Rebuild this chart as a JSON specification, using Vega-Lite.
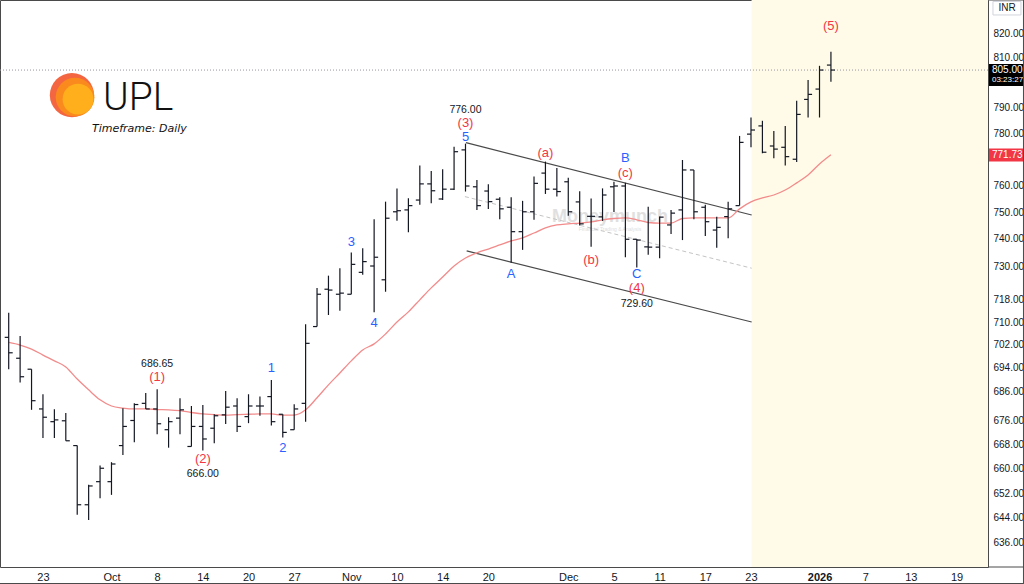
{
"$schema": "https://vega.github.io/schema/vega-lite/v6.json",
"width": 988,
"height": 567,
"autosize": {"type": "none"},
"padding": {"left": 0, "top": 0, "right": 36, "bottom": 17},
"background": "#ffffff",
"config": {"view": {"stroke": "#4a4a4a", "strokeWidth": 1}, "text": {"font": "Liberation Sans"}, "axis": {"labelFont": "Liberation Sans", "grid": false, "title": null}},
"datasets": {
"bars": [
{"i":0,"o":704.6,"h":713.3,"l":693.5,"c":699.2,"ma":702.8},
{"i":1,"o":697.3,"h":705.1,"l":688.9,"c":690.9,"ma":701.9},
{"i":2,"o":693.5,"h":693.5,"l":679.6,"c":682.7,"ma":700.5},
{"i":3,"o":679.9,"h":684.9,"l":670.1,"c":677.1,"ma":698.4},
{"i":4,"o":675.6,"h":679.8,"l":670.1,"c":676.2,"ma":696.4},
{"i":5,"o":675.9,"h":678.5,"l":669.2,"c":669.2,"ma":694.3},
{"i":6,"o":667.6,"h":667.6,"l":645.0,"c":648.2,"ma":690.1},
{"i":7,"o":648.2,"h":654.7,"l":643.3,"c":654.3,"ma":686.4},
{"i":8,"o":655.7,"h":661.0,"l":650.3,"c":660.1,"ma":683.0},
{"i":9,"o":655.7,"h":662.1,"l":651.4,"c":661.5,"ma":680.9},
{"i":10,"o":667.6,"h":680.1,"l":664.5,"c":674.0,"ma":680.2},
{"i":11,"o":676.0,"h":681.8,"l":668.7,"c":681.4,"ma":679.9},
{"i":12,"o":681.8,"h":685.3,"l":679.9,"c":679.9,"ma":679.9},
{"i":13,"o":679.9,"h":686.65,"l":671.4,"c":674.9,"ma":679.7},
{"i":14,"o":672.9,"h":677.1,"l":666.9,"c":675.6,"ma":679.6},
{"i":15,"o":676.8,"h":683.5,"l":671.4,"c":679.6,"ma":679.3},
{"i":16,"o":667.3,"h":680.9,"l":667.3,"c":674.0,"ma":678.7},
{"i":17,"o":674.0,"h":681.2,"l":666.0,"c":669.8,"ma":678.2},
{"i":18,"o":673.4,"h":678.1,"l":668.4,"c":677.6,"ma":678.0},
{"i":19,"o":677.9,"h":686.0,"l":674.8,"c":680.5,"ma":677.8},
{"i":20,"o":680.9,"h":683.5,"l":672.1,"c":674.0,"ma":678.0},
{"i":21,"o":677.3,"h":684.9,"l":675.1,"c":680.9,"ma":678.1},
{"i":22,"o":680.9,"h":684.1,"l":677.6,"c":680.9,"ma":678.2},
{"i":23,"o":684.1,"h":689.8,"l":674.3,"c":675.6,"ma":678.2},
{"i":24,"o":678.1,"h":678.1,"l":670.3,"c":672.0,"ma":677.8},
{"i":25,"o":672.9,"h":681.5,"l":672.9,"c":679.9,"ma":677.8},
{"i":26,"o":681.8,"h":709.2,"l":675.6,"c":702.5,"ma":679.6},
{"i":27,"o":708.4,"h":722.1,"l":708.4,"c":719.9,"ma":683.7},
{"i":28,"o":721.7,"h":726.6,"l":712.5,"c":721.4,"ma":688.1},
{"i":29,"o":719.9,"h":729.3,"l":714.0,"c":720.3,"ma":692.2},
{"i":30,"o":719.9,"h":735.0,"l":719.9,"c":730.7,"ma":696.4},
{"i":31,"o":727.8,"h":736.6,"l":726.9,"c":731.7,"ma":700.2},
{"i":32,"o":730.1,"h":747.3,"l":713.5,"c":733.3,"ma":702.3},
{"i":33,"o":725.1,"h":753.9,"l":720.8,"c":747.7,"ma":705.8},
{"i":34,"o":750.1,"h":758.9,"l":746.8,"c":750.5,"ma":710.0},
{"i":35,"o":750.8,"h":755.2,"l":742.5,"c":752.4,"ma":713.6},
{"i":36,"o":754.5,"h":767.6,"l":752.7,"c":760.6,"ma":717.9},
{"i":37,"o":760.6,"h":765.5,"l":753.3,"c":758.0,"ma":722.2},
{"i":38,"o":754.9,"h":766.2,"l":754.5,"c":758.6,"ma":726.1},
{"i":39,"o":758.6,"h":774.8,"l":758.3,"c":772.9,"ma":730.1},
{"i":40,"o":773.6,"h":776.0,"l":757.7,"c":759.8,"ma":733.0},
{"i":41,"o":759.5,"h":762.1,"l":750.8,"c":752.4,"ma":734.9},
{"i":42,"o":757.9,"h":760.5,"l":751.1,"c":753.9,"ma":736.3},
{"i":43,"o":754.8,"h":755.6,"l":747.3,"c":751.2,"ma":737.8},
{"i":44,"o":751.8,"h":755.6,"l":731.3,"c":742.7,"ma":739.3},
{"i":45,"o":742.7,"h":754.2,"l":736.0,"c":750.1,"ma":740.4},
{"i":46,"o":750.1,"h":763.4,"l":747.1,"c":760.8,"ma":742.2},
{"i":47,"o":764.7,"h":769.1,"l":756.8,"c":758.6,"ma":744.1},
{"i":48,"o":758.6,"h":766.6,"l":755.8,"c":757.7,"ma":745.2},
{"i":49,"o":761.4,"h":762.9,"l":748.6,"c":750.1,"ma":745.6},
{"i":50,"o":753.8,"h":757.8,"l":745.0,"c":745.6,"ma":745.9},
{"i":51,"o":748.4,"h":755.1,"l":737.1,"c":748.4,"ma":746.3},
{"i":52,"o":748.2,"h":758.9,"l":746.7,"c":756.4,"ma":747.1},
{"i":53,"o":759.5,"h":761.4,"l":750.0,"c":759.8,"ma":747.6},
{"i":54,"o":759.8,"h":761.0,"l":733.3,"c":739.9,"ma":747.8},
{"i":55,"o":739.9,"h":739.9,"l":729.6,"c":739.6,"ma":747.1},
{"i":56,"o":737.1,"h":752.0,"l":734.2,"c":737.0,"ma":746.1},
{"i":57,"o":737.0,"h":748.3,"l":732.9,"c":748.1,"ma":745.9},
{"i":58,"o":745.2,"h":750.8,"l":741.8,"c":749.6,"ma":745.9},
{"i":59,"o":750.8,"h":769.7,"l":739.6,"c":765.9,"ma":747.6},
{"i":60,"o":765.9,"h":765.9,"l":747.3,"c":750.1,"ma":747.8},
{"i":61,"o":751.8,"h":752.7,"l":741.1,"c":746.4,"ma":747.8},
{"i":62,"o":743.3,"h":748.2,"l":736.8,"c":744.3,"ma":747.8},
{"i":63,"o":748.3,"h":753.9,"l":740.3,"c":751.2,"ma":747.8},
{"i":64,"o":752.4,"h":779.0,"l":752.4,"c":776.5,"ma":751.2},
{"i":65,"o":779.7,"h":786.2,"l":774.6,"c":781.3,"ma":753.8},
{"i":66,"o":782.9,"h":784.9,"l":772.3,"c":772.7,"ma":755.3},
{"i":67,"o":775.1,"h":780.9,"l":770.4,"c":773.9,"ma":756.4},
{"i":68,"o":774.6,"h":782.9,"l":767.6,"c":771.0,"ma":758.3},
{"i":69,"o":770.0,"h":792.8,"l":768.9,"c":787.4,"ma":761.0},
{"i":70,"o":793.3,"h":801.0,"l":786.2,"c":795.3,"ma":764.0},
{"i":71,"o":797.4,"h":806.7,"l":786.2,"c":805.0,"ma":768.2},
{"i":72,"o":807.0,"h":812.4,"l":800.3,"c":805.0,"ma":771.73}
],
"channel": [
{"line":"upper","i":40.04,"p":776.4},
{"line":"upper","i":65.06,"p":748.9},
{"line":"lower","i":40.1,"p":735.6},
{"line":"lower","i":65.06,"p":710.0},
{"line":"mid","i":39.95,"p":755.8},
{"line":"mid","i":65.06,"p":729.3}
],
"notes": [
{"i":13,"p":695.3,"t":"686.65","k":"price"},
{"i":13,"p":690.7,"t":"(1)","k":"major"},
{"i":17,"p":663.1,"t":"(2)","k":"major"},
{"i":17,"p":658.2,"t":"666.00","k":"price"},
{"i":23,"p":693.8,"t":"1","k":"minor"},
{"i":24,"p":666.7,"t":"2","k":"minor"},
{"i":30,"p":738.8,"t":"3","k":"minor"},
{"i":32,"p":709.8,"t":"4","k":"minor"},
{"i":40,"p":789.2,"t":"776.00","k":"price"},
{"i":40,"p":784.1,"t":"(3)","k":"major"},
{"i":40,"p":778.5,"t":"5","k":"minor"},
{"i":47,"p":772.5,"t":"(a)","k":"major"},
{"i":44,"p":727.1,"t":"A","k":"minor"},
{"i":51,"p":732.3,"t":"(b)","k":"major"},
{"i":54,"p":770.4,"t":"B","k":"minor"},
{"i":54,"p":764.7,"t":"(c)","k":"major"},
{"i":55,"p":727.3,"t":"C","k":"minor"},
{"i":55,"p":722.2,"t":"(4)","k":"major"},
{"i":55,"p":716.5,"t":"729.60","k":"price"},
{"i":72,"p":822.8,"t":"(5)","k":"major"}
],
"logo": [
{"part":"outer","i":5.54,"p":795.0},
{"part":"mid","i":5.81,"p":794.2},
{"part":"core","i":6.07,"p":793.4}
]
},
"layer": [
{
"data": {"name": "bars"},
"mark": {"type": "rule", "opacity": 0},
"encoding": {
"x": {"field": "i", "type": "quantitative", "scale": {"domain": [-0.762, 85.754], "nice": false, "zero": false},
"axis": {"orient": "bottom", "title": null, "values": [3,9,13,17,21,25,30,34,38,42,49,53,57,61,65,71,75,79,83],
"labelExpr": "datum.value == 3 ? '23' : datum.value == 9 ? 'Oct' : datum.value == 13 ? '8' : datum.value == 17 ? '14' : datum.value == 21 ? '20' : datum.value == 25 ? '27' : datum.value == 30 ? 'Nov' : datum.value == 34 ? '10' : datum.value == 38 ? '14' : datum.value == 42 ? '20' : datum.value == 49 ? 'Dec' : datum.value == 53 ? '5' : datum.value == 57 ? '11' : datum.value == 61 ? '17' : datum.value == 65 ? '23' : datum.value == 71 ? '2026' : datum.value == 75 ? '7' : datum.value == 79 ? '13' : '19'",
"labelFontWeight": {"condition": {"test": "datum.value == 71", "value": "bold"}, "value": "normal"},
"labelOverlap": false, "labelFlush": false, "ticks": false, "domain": false, "grid": false, "labelPadding": 4, "labelFontSize": 11, "labelColor": "#131722"}},
"y": {"field": "l", "type": "quantitative", "scale": {"type": "log", "domain": [628.4, 833.6], "nice": false},
"axis": {"orient": "right", "title": null, "values": [820,810,790,780,760,750,740,730,718,710,702,694,686,676,668,660,652,644,636],
"format": ".2f", "ticks": false, "domain": false, "grid": false, "labelAlign": "left", "labelPadding": 5, "labelFontSize": 10, "labelColor": "#131722", "labelOverlap": false, "labelFlush": false}},
"y2": {"field": "h"}
}
},
{
"data": {"values": [{}]},
"mark": {"type": "rect", "color": "#fffbe8"},
"encoding": {
"x": {"datum": 65.05, "type": "quantitative"},
"x2": {"datum": 85.754}
}
},
{
"data": {"values": [{"i": 52.65, "p": 748.0, "t": "Moneymunch"}]},
"mark": {"type": "text", "fontSize": 18, "fontWeight": "bold", "color": "#c8c8c8", "opacity": 0.55, "align": "center", "baseline": "middle"},
"encoding": {
"x": {"field": "i", "type": "quantitative"},
"y": {"field": "p", "type": "quantitative"},
"text": {"field": "t"}
}
},
{
"data": {"values": [{"i": 52.65, "p": 743.6, "t": "Financial Trading & Analysis"}]},
"mark": {"type": "text", "fontSize": 5, "color": "#c8c8c8", "opacity": 0.6, "align": "center", "baseline": "middle"},
"encoding": {
"x": {"field": "i", "type": "quantitative"},
"y": {"field": "p", "type": "quantitative"},
"text": {"field": "t"}
}
},
{
"data": {"values": [{}]},
"mark": {"type": "rule", "color": "#9598a1", "strokeDash": [1, 2], "strokeWidth": 1},
"encoding": {
"y": {"datum": 805, "type": "quantitative"}
}
},
{
"data": {"name": "channel"},
"transform": [{"filter": "datum.line != 'mid'"}],
"mark": {"type": "line", "color": "#4a4a4a", "strokeWidth": 1.2},
"encoding": {
"x": {"field": "i", "type": "quantitative"},
"y": {"field": "p", "type": "quantitative"},
"detail": {"field": "line"}
}
},
{
"data": {"name": "channel"},
"transform": [{"filter": "datum.line == 'mid'"}],
"mark": {"type": "line", "color": "#c4c4c4", "strokeWidth": 1, "strokeDash": [4, 3]},
"encoding": {
"x": {"field": "i", "type": "quantitative"},
"y": {"field": "p", "type": "quantitative"}
}
},
{
"data": {"name": "bars"},
"mark": {"type": "line", "color": "#f28b8b", "strokeWidth": 1.3, "interpolate": "monotone"},
"encoding": {
"x": {"field": "i", "type": "quantitative"},
"y": {"field": "ma", "type": "quantitative"}
}
},
{
"data": {"name": "bars"},
"mark": {"type": "rule", "color": "#131722", "strokeWidth": 1.2},
"encoding": {
"x": {"field": "i", "type": "quantitative"},
"y": {"field": "l", "type": "quantitative"},
"y2": {"field": "h"}
}
},
{
"data": {"name": "bars"},
"mark": {"type": "rule", "color": "#131722", "strokeWidth": 1.2, "x2Offset": -4},
"encoding": {
"x": {"field": "i", "type": "quantitative"},
"x2": {"field": "i"},
"y": {"field": "o", "type": "quantitative"}
}
},
{
"data": {"name": "bars"},
"mark": {"type": "rule", "color": "#131722", "strokeWidth": 1.2, "x2Offset": 4},
"encoding": {
"x": {"field": "i", "type": "quantitative"},
"x2": {"field": "i"},
"y": {"field": "c", "type": "quantitative"}
}
},
{
"data": {"name": "notes"},
"transform": [{"filter": "datum.k == 'price'"}],
"mark": {"type": "text", "fontSize": 10.5, "color": "#131722", "align": "center", "baseline": "middle"},
"encoding": {
"x": {"field": "i", "type": "quantitative"},
"y": {"field": "p", "type": "quantitative"},
"text": {"field": "t"}
}
},
{
"data": {"name": "notes"},
"transform": [{"filter": "datum.k == 'major'"}],
"mark": {"type": "text", "fontSize": 13, "color": "#f23645", "align": "center", "baseline": "middle"},
"encoding": {
"x": {"field": "i", "type": "quantitative"},
"y": {"field": "p", "type": "quantitative"},
"text": {"field": "t"}
}
},
{
"data": {"name": "notes"},
"transform": [{"filter": "datum.k == 'minor'"}],
"mark": {"type": "text", "fontSize": 13, "color": "#2962ff", "align": "center", "baseline": "middle"},
"encoding": {
"x": {"field": "i", "type": "quantitative"},
"y": {"field": "p", "type": "quantitative"},
"text": {"field": "t"}
}
},
{
"data": {"name": "logo"},
"transform": [{"filter": "datum.part == 'outer'"}],
"mark": {"type": "circle", "color": "#f2552c", "opacity": 0.9, "size": 1960},
"encoding": {
"x": {"field": "i", "type": "quantitative"},
"y": {"field": "p", "type": "quantitative"}
}
},
{
"data": {"name": "logo"},
"transform": [{"filter": "datum.part == 'mid'"}],
"mark": {"type": "circle", "color": "#fa8a1e", "opacity": 1, "size": 1500},
"encoding": {
"x": {"field": "i", "type": "quantitative"},
"y": {"field": "p", "type": "quantitative"}
}
},
{
"data": {"name": "logo"},
"transform": [{"filter": "datum.part == 'core'"}],
"mark": {"type": "circle", "color": "#ffae1c", "opacity": 1, "size": 950},
"encoding": {
"x": {"field": "i", "type": "quantitative"},
"y": {"field": "p", "type": "quantitative"}
}
},
{
"data": {"values": [{"i": 8.26, "p": 789.1, "t": "UPL"}]},
"mark": {"type": "text", "font": "Roboto", "fontWeight": 300, "fontSize": 39, "color": "#111111", "align": "left", "baseline": "alphabetic"},
"encoding": {
"x": {"field": "i", "type": "quantitative"},
"y": {"field": "p", "type": "quantitative"},
"text": {"field": "t"}
}
},
{
"data": {"values": [{"i": 7.29, "p": 780.5, "t": "Timeframe: Daily"}]},
"mark": {"type": "text", "font": "DejaVu Sans", "fontStyle": "italic", "fontSize": 11, "color": "#111111", "align": "left", "baseline": "alphabetic"},
"encoding": {
"x": {"field": "i", "type": "quantitative"},
"y": {"field": "p", "type": "quantitative"},
"text": {"field": "t"}
}
},
{
"data": {"values": [{}]},
"mark": {"type": "rect", "color": "#000000"},
"encoding": {
"x": {"datum": 85.84, "type": "quantitative"},
"x2": {"datum": 89.0},
"y": {"datum": 807.4, "type": "quantitative"},
"y2": {"datum": 798.6}
}
},
{
"data": {"values": [{}]},
"mark": {"type": "rect", "color": "#f23645"},
"encoding": {
"x": {"datum": 85.84, "type": "quantitative"},
"x2": {"datum": 89.0},
"y": {"datum": 774.1, "type": "quantitative"},
"y2": {"datum": 769.1}
}
},
{
"data": {"values": [{}]},
"mark": {"type": "rect", "fill": "#ffffff", "stroke": "#d1d4dc", "strokeWidth": 1},
"encoding": {
"x": {"datum": 86.19, "type": "quantitative"},
"x2": {"datum": 88.64},
"y": {"datum": 833.0, "type": "quantitative"},
"y2": {"datum": 827.4}
}
},
{
"data": {"values": [{"i": 86.1, "p": 805.0, "t": "805.00"}, {"i": 86.1, "p": 771.73, "t": "771.73"}]},
"mark": {"type": "text", "fontSize": 10, "color": "#ffffff", "align": "left", "baseline": "middle"},
"encoding": {
"x": {"field": "i", "type": "quantitative"},
"y": {"field": "p", "type": "quantitative"},
"text": {"field": "t"}
}
},
{
"data": {"values": [{"i": 86.1, "p": 800.9, "t": "03:23:27"}]},
"mark": {"type": "text", "fontSize": 8, "color": "#ffffff", "align": "left", "baseline": "middle"},
"encoding": {
"x": {"field": "i", "type": "quantitative"},
"y": {"field": "p", "type": "quantitative"},
"text": {"field": "t"}
}
},
{
"data": {"values": [{"i": 87.42, "p": 830.3, "t": "INR"}]},
"mark": {"type": "text", "fontSize": 10, "color": "#131722", "align": "center", "baseline": "middle"},
"encoding": {
"x": {"field": "i", "type": "quantitative"},
"y": {"field": "p", "type": "quantitative"},
"text": {"field": "t"}
}
},
{
"data": {"values": [{}]},
"mark": {"type": "rule", "color": "#4a4a4a", "strokeWidth": 1},
"encoding": {
"x": {"datum": 88.86, "type": "quantitative"},
"y": {"datum": 833.6, "type": "quantitative"},
"y2": {"datum": 623.25}
}
},
{
"data": {"values": [{}]},
"mark": {"type": "rule", "color": "#4a4a4a", "strokeWidth": 1},
"encoding": {
"x": {"datum": -0.762, "type": "quantitative"},
"x2": {"datum": 88.9},
"y": {"datum": 623.25, "type": "quantitative"}
}
},
{
"data": {"values": [{}]},
"mark": {"type": "rule", "color": "#4a4a4a", "strokeWidth": 1},
"encoding": {
"x": {"datum": 85.754, "type": "quantitative"},
"x2": {"datum": 88.9},
"y": {"datum": 628.4, "type": "quantitative"}
}
},
{
"data": {"values": [{}]},
"mark": {"type": "rule", "color": "#4a4a4a", "strokeWidth": 1},
"encoding": {
"x": {"datum": 85.754, "type": "quantitative"},
"x2": {"datum": 88.9},
"y": {"datum": 833.6, "type": "quantitative"}
}
}
]
}
